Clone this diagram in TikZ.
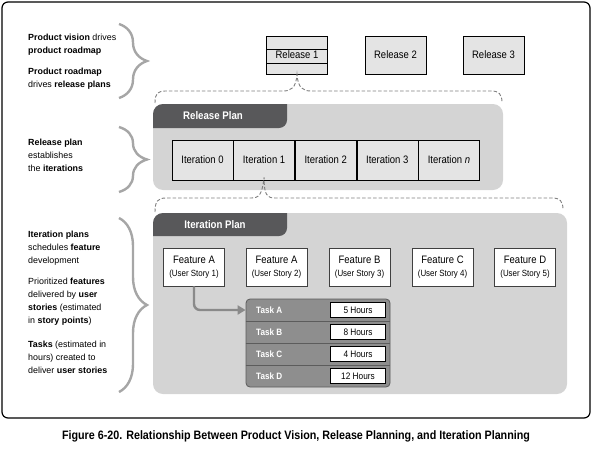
\documentclass[tikz,border=0pt]{standalone}
\usepackage{fontspec}
\setmainfont{Liberation Sans}
\newfontfamily\condfont{Liberation Sans}[FakeStretch=0.88]

\usetikzlibrary{arrows.meta, positioning, decorations.pathreplacing}

\definecolor{panelgray}{HTML}{D4D4D4}
\definecolor{tabgray}{HTML}{58585A}
\definecolor{boxgray}{HTML}{E4E4E4}
\definecolor{taskgray}{HTML}{8E8E8E}
\definecolor{taskedge}{HTML}{5C5C5C}
\definecolor{bracegray}{HTML}{A6A6A6}
\definecolor{dashgray}{HTML}{7F7F7F}
\definecolor{arrowgray}{HTML}{8A8A8A}

\begin{document}
\begin{tikzpicture}[x=1pt, y=-1pt, >=Stealth,
    relbox/.style={draw, fill=boxgray, line width=0.6pt, minimum width=61pt, minimum height=38pt, inner sep=0pt, font=\condfont\fontsize{10.8}{12}\selectfont},
    iterbox/.style={draw, fill=boxgray, line width=0.6pt, minimum width=61pt, minimum height=40pt, inner sep=0pt, font=\condfont\fontsize{10.8}{12}\selectfont},
    featbox/.style={draw=black!75, fill=white, line width=0.6pt, minimum width=61pt, minimum height=38pt, inner sep=0pt, align=center, font=\condfont\fontsize{10.8}{13}\selectfont},
    panel/.style={fill=panelgray, rounded corners=10pt},
    tabtext/.style={text=white, font=\condfont\bfseries\fontsize{11}{13}\selectfont},
    tasklabel/.style={text=white, inner sep=0pt, font=\condfont\bfseries\fontsize{9.2}{11}\selectfont},
    hourbox/.style={draw, fill=white, line width=0.6pt, minimum width=55pt, minimum height=15pt, inner sep=0pt, font=\condfont\fontsize{9.4}{11}\selectfont},
    sidenote/.style={anchor=west, align=left, inner sep=0pt, font=\fontsize{8.9}{13}\selectfont},
    sidebrace/.style={draw=bracegray, line width=2.4pt, decorate, decoration={brace, amplitude=28pt}},
    linkbrace/.style={draw=dashgray, line width=0.9pt, dash pattern=on 3.5pt off 2pt},
    flow/.style={draw=arrowgray, line width=2.4pt, rounded corners=6pt, -{Triangle[length=8pt, width=9pt]}}]

    \useasboundingbox (0,0) rectangle (593,452);
    \draw[line width=1.2pt, rounded corners=6pt] (2,2) rectangle (590,418);

    % notes on the left
    \node[sidenote] (noteVision) at (28,45) {\textbf{Product vision} drives\\\textbf{product roadmap}};
    \node[sidenote] (noteRoadmap) at (28,79) {\textbf{Product roadmap}\\drives \textbf{release plans}};
    \node[sidenote] (noteRelease) at (28,155) {\textbf{Release plan}\\establishes\\the \textbf{iterations}};
    \node[sidenote] (noteIteration) at (28,248) {\textbf{Iteration plans}\\schedules \textbf{feature}\\development};
    \node[sidenote] (noteFeatures) at (28,302) {Prioritized \textbf{features}\\delivered by \textbf{user}\\\textbf{stories} (estimated\\in \textbf{story points})};
    \node[sidenote] (noteTasks) at (28,357) {\textbf{Tasks} (estimated in\\hours) created to\\deliver \textbf{user stories}};

    \draw[sidebrace] (119,24) -- (119,98);
    \draw[sidebrace] (119,127) -- (119,192);
    \draw[sidebrace] (119,218) -- (119,392);

    % releases
    \node[relbox] (rel1) at (297,55) {Release 1};
    \node[relbox] (rel2) at (395.5,55) {Release 2};
    \node[relbox] (rel3) at (493.5,55) {Release 3};
    \draw[line width=0.6pt] (rel1.west |- 0,49) -- (rel1.east |- 0,49);
    \draw[line width=0.6pt] (rel1.west |- 0,63) -- (rel1.east |- 0,63);

    % release plan
    \fill[panel] (153,104) rectangle (503,190);
    \begin{scope}
        \clip[rounded corners=10pt] (153,104) rectangle (503,190);
        \fill[tabgray, rounded corners=8pt] (140,90) rectangle (287,128);
    \end{scope}
    \node[tabtext] (relTab) at (213,116) {Release Plan};

    \node[iterbox] (iter0) at (202.5,160) {Iteration 0};
    \node[iterbox, right=0pt of iter0] (iter1) {Iteration 1};
    \node[iterbox, right=0pt of iter1] (iter2) {Iteration 2};
    \node[iterbox, right=0pt of iter2] (iter3) {Iteration 3};
    \node[iterbox, right=0pt of iter3] (iterN) {Iteration \textit{n}};

    \coordinate (relL) at (155,103);
    \coordinate (relR) at (502,103);
    \draw[linkbrace] (relL) .. controls (155,93) and (158,91) .. (166,91) -- (283,91)
        .. controls (291,91) and (296,88) .. (rel1.south) .. controls (298,88) and (303,91) .. (311,91)
        -- (491,91) .. controls (499,91) and (502,94) .. (relR);

    % iteration plan
    \fill[panel] (153,213) rectangle (567,394);
    \begin{scope}
        \clip[rounded corners=10pt] (153,213) rectangle (567,394);
        \fill[tabgray, rounded corners=8pt] (140,200) rectangle (287,236);
    \end{scope}
    \node[tabtext] (iterTab) at (215,225) {Iteration Plan};

    \coordinate (iterL) at (155,212);
    \coordinate (iterR) at (563,210);
    \draw[linkbrace] (iterL) .. controls (155,201) and (158,198) .. (166,198) -- (251,198)
        .. controls (259,198) and (262,195) .. ([yshift=3pt]iter1.south) .. controls (264,195) and (267,198) .. (275,198)
        -- (552,198) .. controls (560,198) and (563,201) .. (iterR);

    \foreach \name/\x/\feat/\story in {featA1/194/A/1, featA2/276.5/A/2, featB/359.5/B/3, featC/442.5/C/4, featD/525/D/5}
        \node[featbox] (\name) at (\x,267) {Feature \feat\\{\fontsize{9}{11}\selectfont (User Story \story)}};

    % tasks
    \node[draw=taskedge, fill=taskgray, line width=0.8pt, rounded corners=4pt, minimum width=144pt, minimum height=88pt] (tasks) at (318,343) {};
    \foreach \y in {321, 343, 365}
        \draw[taskedge, line width=0.8pt] (tasks.west |- 0,\y) -- (tasks.east |- 0,\y);
    \foreach \t/\h [count=\i] in {A/5, B/8, C/4, D/12} {
        \node[tasklabel, anchor=west] (task\t) at (256,288+22*\i) {Task \t};
        \node[hourbox] (hours\t) at (358,288+22*\i) {\h\ Hours};
    }

    \draw[flow] (featA1.south) |- (tasks.west |- taskA.center);

    \node[font=\condfont\bfseries\fontsize{12.2}{14}\selectfont] (caption) at (296,436) {Figure 6-20. Relationship Between Product Vision, Release Planning, and Iteration Planning};
\end{tikzpicture}
\end{document}
